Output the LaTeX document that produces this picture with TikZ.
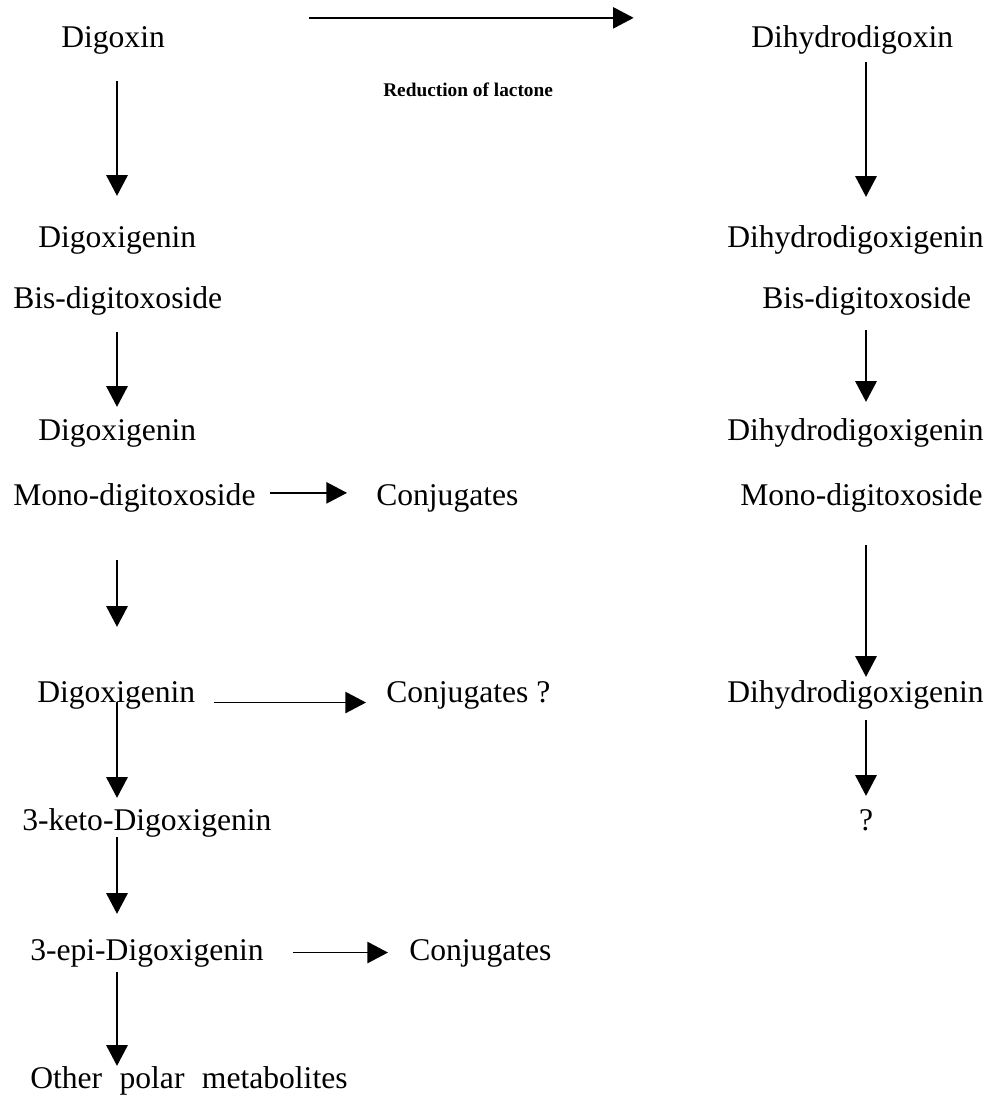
\documentclass[tikz,border=0pt]{standalone}
\usepackage{fontspec}
\setmainfont{Liberation Serif}
\usepackage{tikz}
\usetikzlibrary{arrows.meta}

\begin{document}
\begin{tikzpicture}[x=0.75pt, y=-0.75pt,
  every node/.style={font=\fontsize{23.7pt}{28pt}\selectfont, inner sep=0pt,
    text height=16.4pt, text depth=5.2pt, anchor=base west},
  flow/.style={line width=1.2pt, -{Triangle[length=15.5pt, width=16pt]}}]
\useasboundingbox (0,0) rectangle (993,1095);
% Arrow columns
\coordinate (colL) at (117,0);
\coordinate (colR) at (866,0);
% Left column (digoxin)
\node (dig)   at (61,48)  {Digoxin};
\node (dgn1)  at (38,247) {Digoxigenin};
\node (bis1)  at (13,308) {Bis-digitoxoside};
\node (dgn2)  at (38,440) {Digoxigenin};
\node (mono1) at (13,505) {Mono-digitoxoside};
\node (conj1) at (376,505) {Conjugates};
\node (dgn3)  at (37,702) {Digoxigenin};
\node (conjq) at (386,702) {Conjugates ?};
\node (keto)  at (22,830) {3-keto-Digoxigenin};
\node (epi)   at (30,960) {3-epi-Digoxigenin};
\node (conj2) at (409,960) {Conjugates};
\node (other) at (30,1088) {Other\hspace{0.55em}polar\hspace{0.55em}metabolites};
% Right column (dihydrodigoxin)
\node (dhd)   at (751,48)  {Dihydrodigoxin};
\node (dhg1)  at (727,247) {Dihydrodigoxigenin};
\node (bis2)  at (762,308) {Bis-digitoxoside};
\node (dhg2)  at (727,440) {Dihydrodigoxigenin};
\node (mono2) at (740,505) {Mono-digitoxoside};
\node (dhg3)  at (727,702) {Dihydrodigoxigenin};
\node[anchor=base] (qm) at (866,830) {?};
% Reduction step
\node[font=\bfseries\fontsize{14.5pt}{17pt}\selectfont] (red) at (383,97) {Reduction of lactone};
\draw[flow, shorten <=108pt, shorten >=88pt] ([yshift=6pt]dig.north east) -- ([yshift=6pt]dhd.north west);
% Left chain
\draw[flow, shorten <=19.5pt, shorten >=21.75pt] (dig.south -| colL) -- (dgn1.north -| colL);
\draw[flow, shorten <=12.75pt, shorten >=8.25pt] (bis1.south -| colL) -- (dgn2.north -| colL);
\draw[flow, shorten <=36pt, shorten >=39.75pt] (mono1.south -| colL) -- (dgn3.north -| colL);
\draw[flow, shorten >=7.5pt] (dgn3.base -| colL) -- (keto.north -| colL);
\draw[flow, shorten >=18pt] (keto.south -| colL) -- (epi.north -| colL);
\draw[flow, shorten <=3.75pt] (epi.south -| colL) -- (other.north -| colL);
% Conjugation
\draw[flow, shorten <=10.5pt, shorten >=21.75pt] ([yshift=3.5pt]mono1.east) -- ([yshift=3.5pt]conj1.west);
\draw[flow, shorten <=13.5pt, shorten >=15pt] ([yshift=-6pt]dgn3.east) -- ([yshift=-6pt]conjq.west);
\draw[flow, shorten <=21.75pt, shorten >=15.75pt] (epi.east) -- (conj2.west);
% Right chain
\draw[flow, shorten <=5.25pt, shorten >=21pt] (dhd.south -| colR) -- (dhg1.north -| colR);
\draw[flow, shorten <=11.25pt, shorten >=12pt] (bis2.south -| colR) -- (dhg2.north -| colR);
\draw[flow, shorten <=24.75pt, shorten >=2.25pt] (mono2.south -| colR) -- (dhg3.north -| colR);
\draw[flow, shorten <=8.25pt, shorten >=9pt] (dhg3.south -| colR) -- (qm.north -| colR);
\end{tikzpicture}
\end{document}
